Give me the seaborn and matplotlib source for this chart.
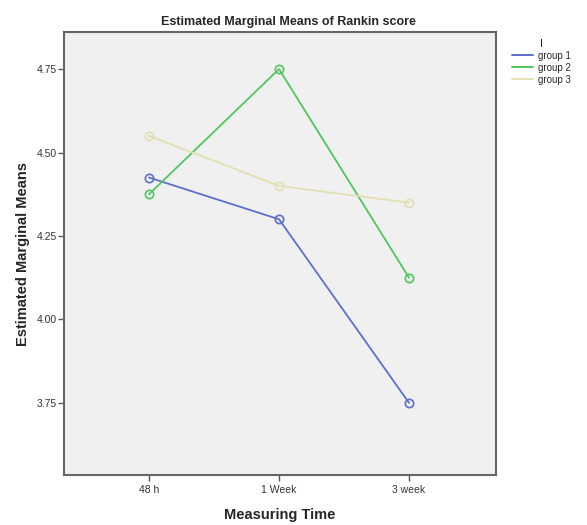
import pandas as pd
import seaborn as sns
import matplotlib.pyplot as plt

# values
times = ['48 h', '1 Week', '3 week']
groups = ['group 1', 'group 2', 'group 3']
group1 = [4.425, 4.30, 3.75]
group2 = [4.375, 4.75, 4.125]
group3 = [4.55, 4.40, 4.35]
yticks = [3.75, 4.00, 4.25, 4.50, 4.75]

palette = {'group 1': '#5b6fcf', 'group 2': '#4fc65e', 'group 3': '#e3dfb0'}

rows = []
for g, vals in zip(groups, [group1, group2, group3]):
    for i, v in enumerate(vals):
        rows.append({'t': i, 'Group': g, 'mean': v})
df = pd.DataFrame(rows)

sns.set_style('white')
plt.rcParams['font.family'] = ['Liberation Sans', 'DejaVu Sans']

fig = plt.figure(figsize=(5.87, 5.25), dpi=100)
ax = fig.add_axes([64 / 587, 1 - 475 / 525, 432 / 587, 443 / 525])
ax.set_facecolor('#f0f0f0')

sns.lineplot(data=df, x='t', y='mean', hue='Group', hue_order=groups,
             palette=palette, marker='o', markersize=6, markerfacecolor='none',
             markeredgewidth=1.2, linewidth=1.3, ax=ax, legend=False)
for line in ax.lines:
    line.set_markeredgecolor(line.get_color())

ax.set_xlim(-0.654, 2.669)
ax.set_ylim(3.534, 4.861)
ax.set_xticks(range(len(times)))
ax.set_xticklabels(times)
ax.set_yticks(yticks)
ax.set_yticklabels([f'{t:.2f}' for t in yticks])
ax.tick_params(axis='both', bottom=True, left=True, length=4, width=1,
               color='#555555', labelsize=7.5, labelcolor='#333333',
               direction='out')
ax.tick_params(axis='y', pad=1)
for s in ax.spines.values():
    s.set_color('#666666')
    s.set_linewidth(1.5)

ax.set_xlabel('Measuring Time', fontsize=10.5, fontweight='bold', labelpad=9)
ax.set_ylabel('Estimated Marginal Means', fontsize=10.5, fontweight='bold', labelpad=5)
ax.set_title('Estimated Marginal Means of Rankin score', fontsize=9,
             fontweight='bold', pad=5, x=0.52)

# legend on the right, outside the plot
handles = [plt.Line2D([], [], color=palette[g], lw=1.4) for g in groups]
leg = fig.legend(handles, groups, title='I', loc='upper left',
                 bbox_to_anchor=(503 / 587, 1 - 30 / 525), frameon=False,
                 fontsize=7, title_fontsize=8, handlelength=2.2,
                 handletextpad=0.5, labelspacing=0.2)

plt.savefig('out.png', dpi=100)
